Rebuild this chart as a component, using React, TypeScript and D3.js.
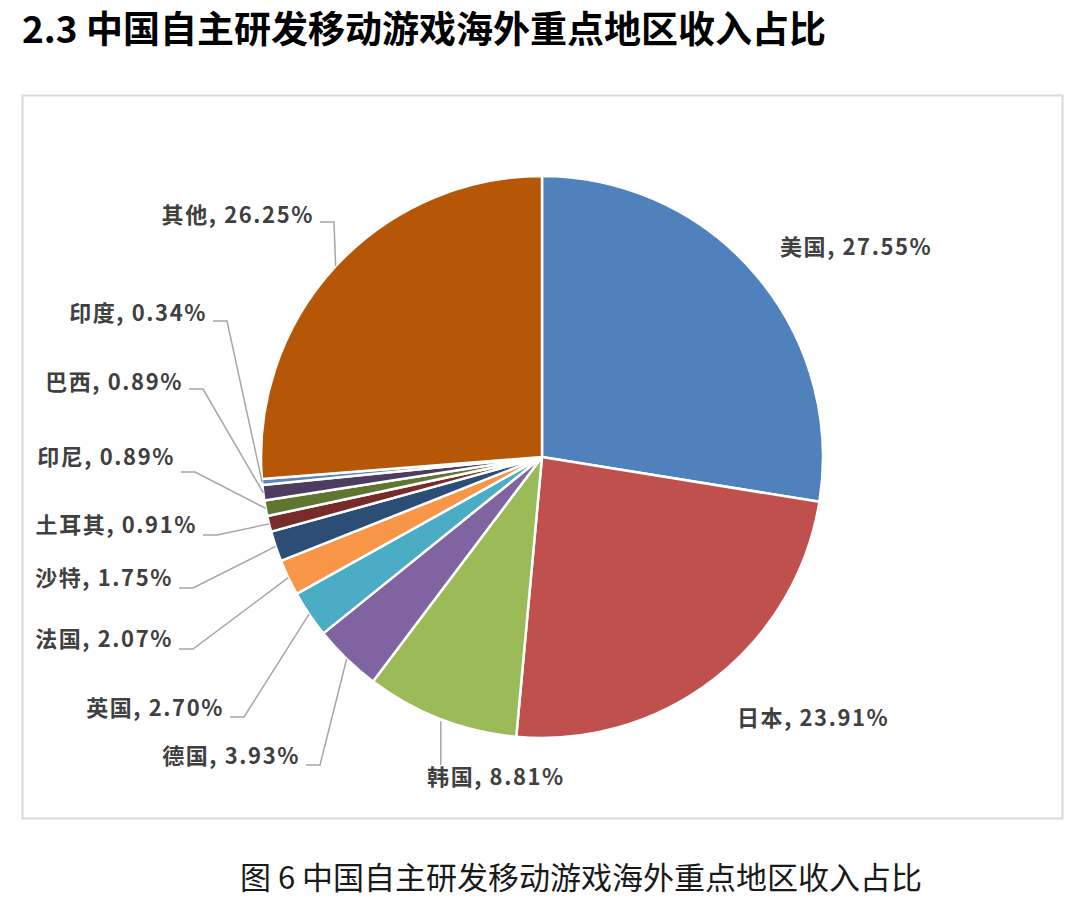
import React from "react";
import * as d3 from "d3";

// region names, clockwise from 12 o'clock
const REGIONS = [
  "美国",
  "日本",
  "韩国",
  "德国",
  "英国",
  "法国",
  "沙特",
  "土耳其",
  "印尼",
  "巴西",
  "印度",
  "其他",
];
const SHARES = [27.55, 23.91, 8.81, 3.93, 2.7, 2.07, 1.75, 0.91, 0.89, 0.89, 0.34, 26.25];
const COLORS = [
  "#4F81BD",
  "#C0504D",
  "#9BBB59",
  "#8064A2",
  "#4BACC6",
  "#F79646",
  "#2C4D75",
  "#772C2A",
  "#5F7530",
  "#4D3B62",
  "#5B86B8",
  "#B65708",
];

// label placement (text anchor point, baseline) and leader style
type Leader = "none" | "left" | "down";
const LABEL_POS: [number, number][] = [
  [780, 255],
  [737, 726],
  [496, 785],
  [300, 764],
  [224, 716],
  [173, 647],
  [173, 586],
  [197, 533],
  [175, 465],
  [183, 390],
  [207, 321],
  [314, 223],
];
const LEADER: Leader[] = [
  "none",
  "none",
  "down",
  "left",
  "left",
  "left",
  "left",
  "left",
  "left",
  "left",
  "left",
  "left",
];
const LEADER_DY = [0, 0, -20, 1, 1, 2, 2, 2, 7, -1, 0, -1];

const TITLE = "2.3 中国自主研发移动游戏海外重点地区收入占比";
const CAPTION = "图 6 中国自主研发移动游戏海外重点地区收入占比";

const W = 1080;
const H = 917;
const CX = 542;
const CY = 457;
const R = 281;
const FONT = "'Noto Sans CJK SC', 'Noto Sans', sans-serif";

function fmt(v: number) {
  return v.toFixed(2) + "%";
}

const App = () => {
  const pie = d3
    .pie<number>()
    .sort(null)
    .value((d) => d);
  const arcs = pie(SHARES);
  const arc = d3.arc<d3.PieArcDatum<number>>().innerRadius(0).outerRadius(R);

  return (
    <svg
      width={W}
      height={H}
      style={{ position: "absolute", left: 0, top: 0, background: "#fff" }}
      fontFamily={FONT}
    >
      <text x={22} y={43} fontSize={37} fontWeight="bold" fill="#000">
        {TITLE}
      </text>
      <rect
        x={22.5}
        y={95.5}
        width={1040}
        height={723}
        fill="#fff"
        stroke="#d9d9d9"
        strokeWidth={2}
      />
      <g transform={`translate(${CX},${CY})`}>
        {arcs.map((a, i) => (
          <path
            key={REGIONS[i]}
            d={arc(a) || ""}
            fill={COLORS[i]}
            stroke="#fff"
            strokeWidth={2.5}
            strokeLinejoin="round"
          />
        ))}
      </g>
      {arcs.map((a, i) => {
        const mid = (a.startAngle + a.endAngle) / 2;
        const px = CX + R * Math.sin(mid);
        const py = CY - R * Math.cos(mid);
        const [lx, ly] = LABEL_POS[i];
        const kind = LEADER[i];
        let leader: React.ReactNode = null;
        if (kind === "left") {
          const y = ly + LEADER_DY[i];
          const pts: [number, number][] = [
            [lx + 6, y],
            [lx + 20, y],
            [px, py],
          ];
          leader = (
            <path
              d={d3.line()(pts) || ""}
              fill="none"
              stroke="#A6A6A6"
              strokeWidth={1.5}
            />
          );
        } else if (kind === "down") {
          leader = (
            <path
              d={d3.line()([
                [px, py + 2],
                [px, ly + LEADER_DY[i]],
              ]) || ""}
              fill="none"
              stroke="#A6A6A6"
              strokeWidth={1.5}
            />
          );
        }
        const anchor = kind === "left" ? "end" : kind === "down" ? "middle" : "start";
        return (
          <g key={"lbl" + REGIONS[i]}>
            {leader}
            <text
              x={lx}
              y={ly}
              textAnchor={anchor}
              fontSize={22}
              fontWeight="bold"
              letterSpacing={1.6}
              fill="#404040"
            >
              {`${REGIONS[i]}, ${fmt(SHARES[i])}`}
            </text>
          </g>
        );
      })}
      <text
        x={581}
        y={889}
        textAnchor="middle"
        fontSize={31}
        fill="#1a1a1a"
      >
        {CAPTION}
      </text>
    </svg>
  );
};

export default App;
